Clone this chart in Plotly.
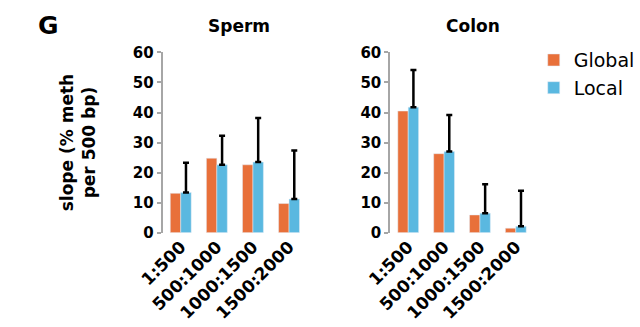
import plotly.graph_objects as go

categories = ["1:500", "500:1000", "1000:1500", "1500:2000"]
sperm_global = [13.1, 24.8, 22.6, 9.7]
sperm_local = [13.4, 22.6, 23.5, 11.2]
sperm_local_err_top = [23.3, 32.3, 38.2, 27.4]
colon_global = [40.5, 26.3, 5.9, 1.5]
colon_local = [41.8, 27.0, 6.5, 2.1]
colon_local_err_top = [54.2, 39.2, 16.1, 14.0]
y_ticks = [0, 10, 20, 30, 40, 50, 60]

ORANGE = "#E8703A"
BLUE = "#5AB8E0"
FONT = "DejaVu Sans"
W, H = 640, 327

fig = go.Figure()

def add_panel(g, l, top, xa, ya, show):
    fig.add_trace(go.Bar(x=categories, y=g, name="Global", marker_color=ORANGE,
                         xaxis=xa, yaxis=ya, showlegend=show, legendgroup="g"))
    fig.add_trace(go.Bar(x=categories, y=l, name="Local", marker_color=BLUE,
                         xaxis=xa, yaxis=ya, showlegend=show, legendgroup="l",
                         error_y=dict(type="data", symmetric=False,
                                      array=[t - v for t, v in zip(top, l)],
                                      arrayminus=[0] * len(l),
                                      color="black", thickness=2.5, width=3)))

add_panel(sperm_global, sperm_local, sperm_local_err_top, "x", "y", True)
add_panel(colon_global, colon_local, colon_local_err_top, "x2", "y2", False)

ydom = [1 - 236.7 / H, 1 - 46 / H]
common_x = dict(type="category", range=[-0.5, 3.5], showline=False, ticks="",
                tickangle=-45, showgrid=False, zeroline=False,
                tickfont=dict(family=FONT, size=17, color="black", weight="bold"))
common_y = dict(range=[0, 60], tickvals=y_ticks, showline=True, linecolor="#A6A6A6",
                linewidth=2, ticks="outside", ticklen=4, tickcolor="#A6A6A6", tickwidth=1.5,
                showgrid=False, zeroline=False, domain=ydom,
                tickfont=dict(family=FONT, size=15, color="black", weight="bold"))

fig.update_layout(
    width=W, height=H,
    margin=dict(l=0, r=0, t=0, b=0),
    paper_bgcolor="white", plot_bgcolor="white",
    barmode="group", bargap=0.42, bargroupgap=0,
    xaxis=dict(domain=[144 / W, 295 / W], anchor="y", **common_x),
    xaxis2=dict(domain=[382 / W, 532 / W], anchor="y2", **common_x),
    yaxis=dict(anchor="x", title=dict(text="slope (% meth<br>per 500 bp)", standoff=33,
                                      font=dict(family=FONT, size=17, color="black", weight="bold")),
               **common_y),
    yaxis2=dict(anchor="x2", **common_y),
    legend=dict(x=532 / W, y=1 - 34 / H, xanchor="left", yanchor="top",
                font=dict(family=FONT, size=19, color="black"),
                tracegroupgap=0, bgcolor="rgba(0,0,0,0)"),
    annotations=[
        dict(text="<b>Sperm</b>", x=224 / W, y=1 - 18 / H, xref="paper", yref="paper",
             showarrow=False, xanchor="center", yanchor="middle",
             font=dict(family=FONT, size=17, color="black")),
        dict(text="<b>Colon</b>", x=469 / W, y=1 - 18 / H, xref="paper", yref="paper",
             showarrow=False, xanchor="center", yanchor="middle",
             font=dict(family=FONT, size=17, color="black")),
        dict(text="<b>G</b>", x=24.5 / W, y=1 - 17 / H, xref="paper", yref="paper",
             showarrow=False, xanchor="center", yanchor="middle",
             font=dict(family=FONT, size=25, color="black")),
    ],
)

fig.write_html("out.html")
